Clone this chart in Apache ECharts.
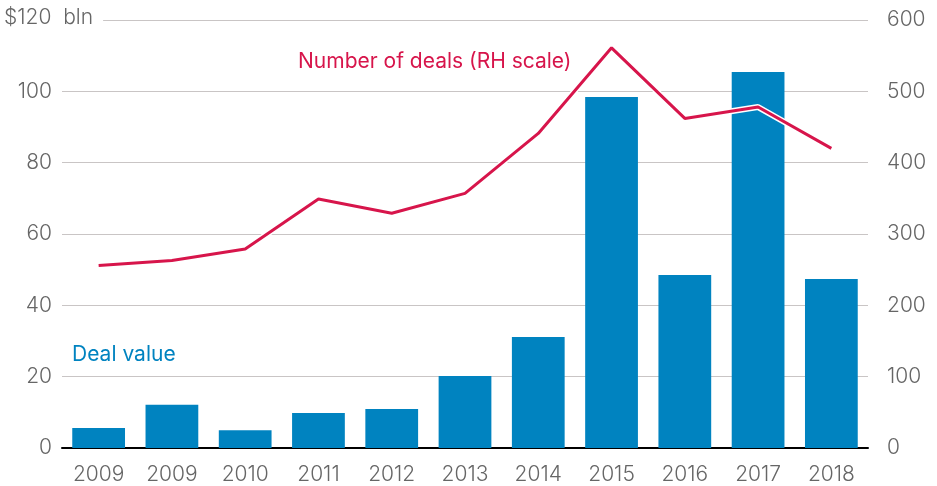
<!DOCTYPE html>
<html>
<head>
<meta charset="utf-8">
<script src="https://cdn.jsdelivr.net/npm/echarts@6/dist/echarts.min.js"></script>
<style>
  html, body { margin: 0; padding: 0; background: #fff; }
  #main { width: 937px; height: 486px; }
</style>
</head>
<body>
<div id="main"></div>
<script>
// data
var years = ['2009', '2009', '2010', '2011', '2012', '2013', '2014', '2015', '2016', '2017', '2018'];
var dealValue = [5.6, 12.1, 5.0, 9.8, 10.9, 20.2, 31.1, 98.4, 48.5, 105.4, 47.4];
var dealCount = [256, 263, 279, 349, 329, 357, 441, 561, 462, 478, 420];
var leftTicks = [0, 20, 40, 60, 80, 100, 120];
var rightTicks = [0, 100, 200, 300, 400, 500, 600];

var font = 'Inter, sans-serif';
var grey = '#666';
var blue = '#0083c0';
var red = '#d7154b';

var myChart = echarts.init(document.getElementById('main'));

var option = {
  animation: false,
  grid: { left: 62, right: 69, top: 20, bottom: 38 },
  xAxis: {
    type: 'category',
    data: years,
    axisLine: { lineStyle: { color: '#000', width: 2 } },
    axisTick: { show: false },
    axisLabel: { color: grey, fontFamily: font, fontSize: 21, fontWeight: 300, margin: 16 }
  },
  yAxis: [
    {
      type: 'value',
      min: leftTicks[0],
      max: leftTicks[leftTicks.length - 1],
      interval: 20,
      axisLine: { show: false },
      axisTick: { show: false },
      axisLabel: {
        color: grey, fontFamily: font, fontSize: 21, fontWeight: 300, margin: 10,
        formatter: function (v) { return v === 120 ? '' : String(v); }
      },
      splitLine: { lineStyle: { color: '#c9c5c5', width: 1 } }
    },
    {
      type: 'value',
      min: rightTicks[0],
      max: rightTicks[rightTicks.length - 1],
      interval: 100,
      axisLine: { show: false },
      axisTick: { show: false },
      axisLabel: { color: grey, fontFamily: font, fontSize: 21, fontWeight: 300, margin: 19 },
      splitLine: { show: false }
    }
  ],
  series: [
    {
      name: 'Deal value',
      type: 'bar',
      data: dealValue,
      barCategoryGap: '28%',
      itemStyle: { color: blue },
      z: 2
    },
    {
      // white halo under the line
      name: 'halo',
      type: 'line',
      yAxisIndex: 1,
      data: dealCount,
      symbol: 'none',
      lineStyle: { color: '#fff', width: 6 },
      silent: true,
      z: 3
    },
    {
      name: 'Number of deals',
      type: 'line',
      yAxisIndex: 1,
      data: dealCount,
      symbol: 'none',
      lineStyle: { color: red, width: 3 },
      z: 4
    }
  ],
  graphic: [
    {
      type: 'text',
      left: 4, top: 7,
      z: 10,
      style: {
        text: '$120  bln', fill: grey, font: '300 21px ' + font,
        backgroundColor: '#fff', padding: [0, 10, 0, 0]
      }
    },
    {
      type: 'text',
      left: 298, top: 51,
      z: 10,
      style: { text: 'Number of deals (RH scale)', fill: red, font: '21px ' + font }
    },
    {
      type: 'text',
      left: 72, top: 344,
      z: 10,
      style: { text: 'Deal value', fill: blue, font: '21px ' + font }
    }
  ]
};

myChart.setOption(option);
</script>
</body>
</html>
